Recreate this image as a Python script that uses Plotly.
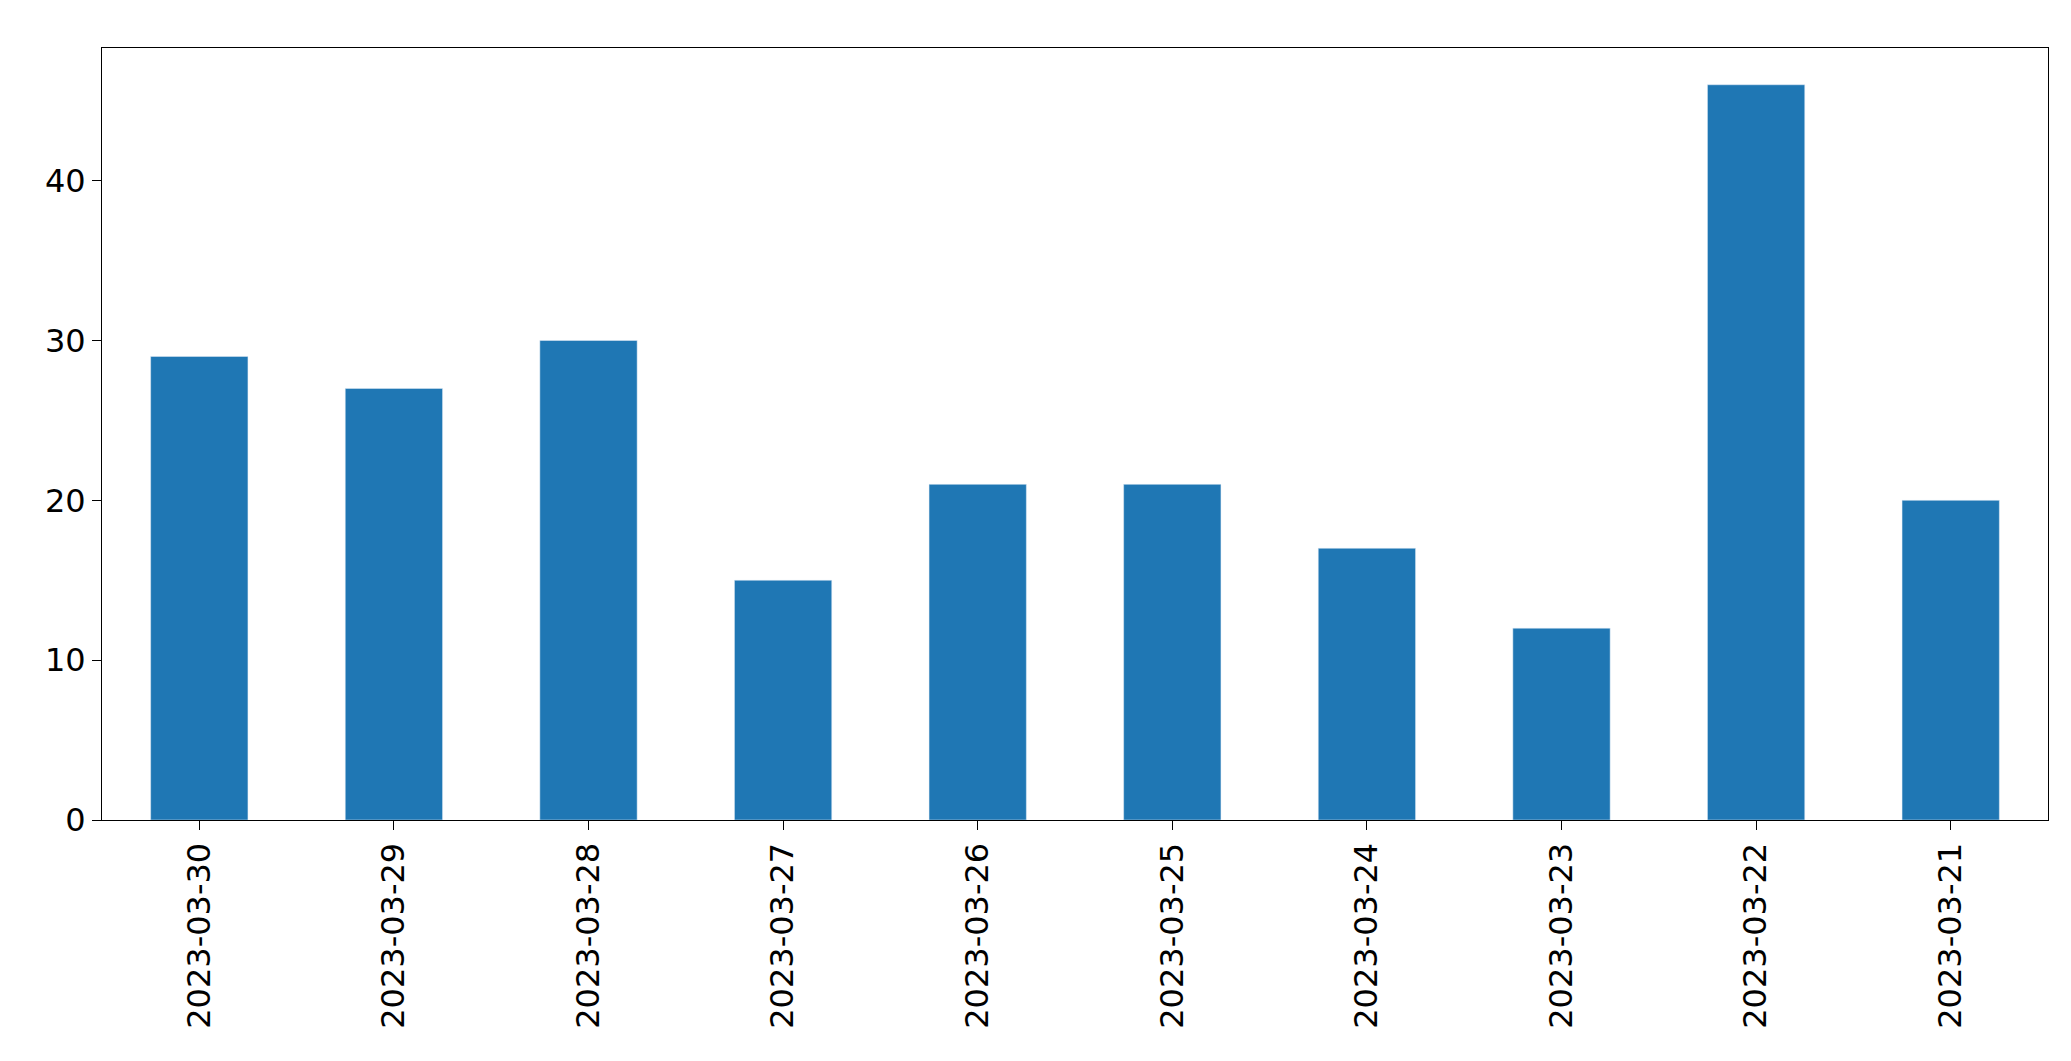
import plotly.graph_objects as go

dates = ["2023-03-30","2023-03-29","2023-03-28","2023-03-27","2023-03-26",
         "2023-03-25","2023-03-24","2023-03-23","2023-03-22","2023-03-21"]
counts = [29, 27, 30, 15, 21, 21, 17, 12, 46, 20]

fig = go.Figure(go.Bar(x=dates, y=counts, marker_color="#1f77b4", width=0.5))
fig.update_layout(
    width=2071, height=1061, plot_bgcolor="white", paper_bgcolor="white",
    margin=dict(l=94, r=31, t=40, b=249),
    font=dict(family="DejaVu Sans", size=32, color="black"),
    showlegend=False,
)
fig.update_xaxes(type="category", tickangle=-90, showline=True, linecolor="black",
                 mirror=True, ticks="outside", ticklen=9, tickcolor="black",
                 range=[-0.5, 9.5])
fig.update_yaxes(range=[0, 48.3], tickvals=[0,10,20,30,40], showgrid=False,
                 showline=True, linecolor="black", mirror=True, ticks="outside",
                 ticklen=9, tickcolor="black", zeroline=False)
fig.write_html("out.html")
